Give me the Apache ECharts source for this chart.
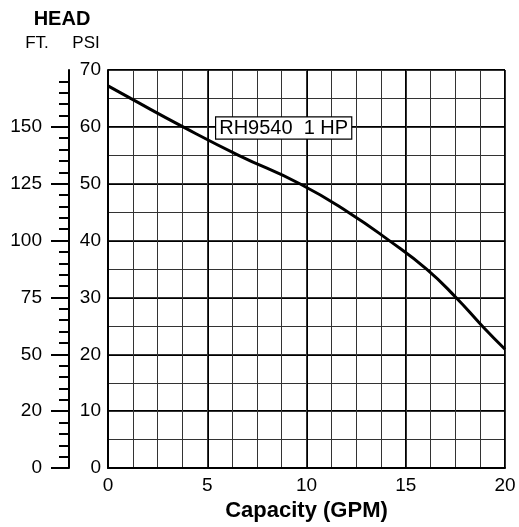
<!DOCTYPE html>
<html>
<head>
<meta charset="utf-8">
<script src="https://cdn.jsdelivr.net/npm/echarts@6/dist/echarts.min.js"></script>
<style>
html,body{margin:0;padding:0;background:#fff;}
#c{width:519px;height:527px;}
</style>
</head>
<body>
<div id="c"></div>
<script>
// Pump curve RH9540 1 HP: capacity (GPM) vs head (PSI)
const capacityGPM = [0, 1.14, 3.78, 6.58, 9.66, 12.1, 14.17, 16.05, 17.53, 18.85, 20];
const headPSI     = [67.2, 65, 60, 55, 50, 45, 40, 35, 30, 25, 20.9];
const xTickLabels = [0, 5, 10, 15, 20];
const psiTickLabels = [0, 10, 20, 30, 40, 50, 60, 70];
const ftTickValues = [0, 10, 20, 30, 40, 50, 60];
const ftTickLabels = ['0', '20', '50', '75', '100', '125', '150'];
const curveName = 'RH9540  1 HP';
const curveLabelAt = [8.85, 59.8];

const FONT = 'Liberation Sans, Arial, Helvetica, sans-serif';
const chart = echarts.init(document.getElementById('c'), null, {renderer: 'canvas'});

const ftMap = {};
ftTickValues.forEach((v, i) => { ftMap[v] = ftTickLabels[i]; });

chart.setOption({
  backgroundColor: '#fff',
  animation: false,
  textStyle: {fontFamily: FONT},
  graphic: [
    {type: 'text', x: 62, y: 19, style: {text: 'HEAD', font: 'bold 20px ' + FONT, fill: '#000', textAlign: 'center', textVerticalAlign: 'middle'}},
    {type: 'text', x: 37, y: 43, style: {text: 'FT.', font: '17px ' + FONT, fill: '#000', textAlign: 'center', textVerticalAlign: 'middle'}},
    {type: 'text', x: 86, y: 43, style: {text: 'PSI', font: '17px ' + FONT, fill: '#000', textAlign: 'center', textVerticalAlign: 'middle'}}
  ],
  grid: {left: 108, right: 14, top: 70, bottom: 57, containLabel: false},
  xAxis: [
    {
      type: 'value', min: 0, max: 20, interval: 5, position: 'bottom',
      name: 'Capacity (GPM)', nameLocation: 'middle', nameGap: 28,
      nameTextStyle: {fontFamily: FONT, fontWeight: 'bold', fontSize: 22, color: '#000'},
      axisLine: {show: true, lineStyle: {color: '#000', width: 2}},
      axisTick: {show: false},
      axisLabel: {color: '#000', fontSize: 19, fontFamily: FONT, margin: 8,
        formatter: v => (xTickLabels.indexOf(v) >= 0 ? String(v) : '')},
      splitLine: {show: true, lineStyle: {color: '#000', width: 2}}
    },
    {
      type: 'value', min: 0, max: 20, interval: 1.25, position: 'top',
      axisLine: {show: false}, axisTick: {show: false}, axisLabel: {show: false},
      splitLine: {show: true, lineStyle: {color: '#333', width: 1}}
    }
  ],
  yAxis: [
    {
      type: 'value', min: 0, max: 70, interval: 10, position: 'left',
      axisLine: {show: true, lineStyle: {color: '#000', width: 2}},
      axisTick: {show: false},
      axisLabel: {color: '#000', fontSize: 19, fontFamily: FONT, margin: 7,
        formatter: v => (psiTickLabels.indexOf(v) >= 0 ? String(v) : '')},
      splitLine: {show: true, lineStyle: {color: '#000', width: 2}}
    },
    {
      type: 'value', min: 0, max: 70, interval: 5, position: 'right',
      axisLine: {show: false}, axisTick: {show: false}, axisLabel: {show: false},
      splitLine: {show: true, lineStyle: {color: '#333', width: 1}}
    },
    {
      type: 'value', min: 0, max: 70, interval: 10, position: 'left', offset: 39,
      axisLine: {show: true, lineStyle: {color: '#000', width: 2}},
      axisTick: {show: true, inside: false, length: 18, lineStyle: {color: '#000', width: 2},
        customValues: ftTickValues},
      minorTick: {show: true, splitNumber: 5, length: 10, lineStyle: {color: '#000', width: 2}},
      axisLabel: {color: '#000', fontSize: 19, fontFamily: FONT, margin: 27,
        customValues: ftTickValues,
        formatter: v => (ftMap[v] !== undefined ? ftMap[v] : '')},
      splitLine: {show: false}
    }
  ],
  series: [
    {
      type: 'line', xAxisIndex: 0, yAxisIndex: 0,
      data: capacityGPM.map((g, i) => [g, headPSI[i]]),
      smooth: 0.5, showSymbol: false, symbol: 'none',
      lineStyle: {color: '#000', width: 3}, z: 5
    },
    {
      type: 'scatter', xAxisIndex: 0, yAxisIndex: 0,
      data: [curveLabelAt], symbolSize: 0, z: 10,
      itemStyle: {opacity: 1},
      label: {show: true, position: 'inside', formatter: curveName, opacity: 1,
        color: '#000', fontSize: 20, fontFamily: FONT,
        backgroundColor: '#fff', borderColor: '#000', borderWidth: 1.2,
        padding: [1, 3, 0, 3]}
    }
  ]
});
</script>
</body>
</html>
